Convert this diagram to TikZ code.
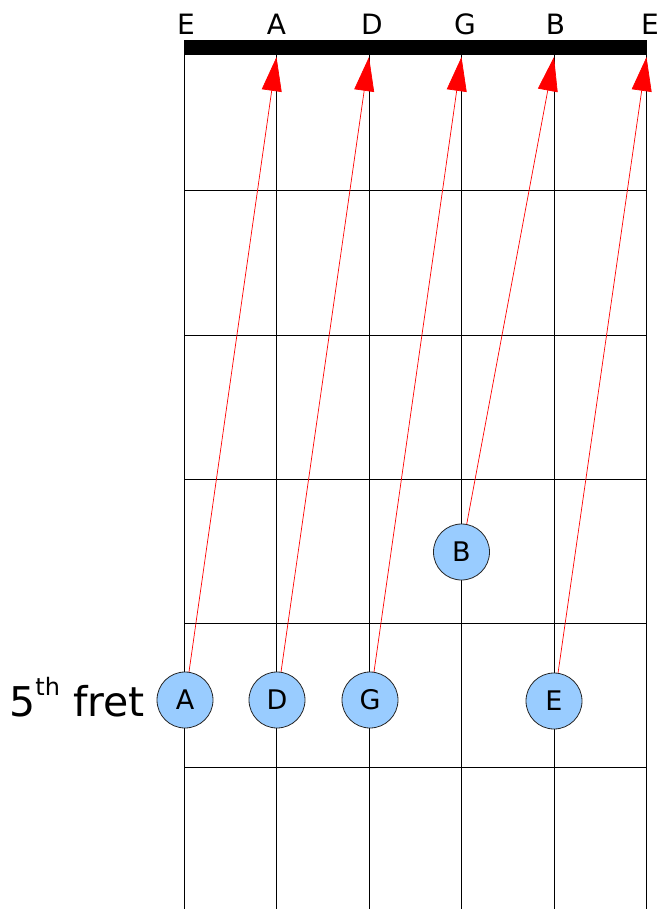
\documentclass[tikz,border=0pt]{standalone}
\usepackage{fontspec}
\setmainfont{DejaVu Sans}
\usetikzlibrary{arrows.meta}
\definecolor{dotblue}{HTML}{99CCFF}
\begin{document}
\begin{tikzpicture}[x=1pt,y=-1pt,
  strline/.style={line width=1pt,black},
  fretline/.style={line width=1pt,black},
  nutbar/.style={fill=black},
  dot/.style={circle,draw=black!85,line width=0.8pt,fill=dotblue,minimum size=56pt,inner sep=0pt,font=\fontsize{27}{27}\selectfont},
  strlabel/.style={anchor=base,inner sep=0pt,font=\fontsize{28}{28}\selectfont},
  arr/.style={red,line width=0.7pt,-{Triangle[length=34pt,width=20pt]}}
]
\useasboundingbox (0,0) rectangle (657,909);
\clip (0,0) rectangle (657,909);
% strings
\foreach \n/\x in {s1/184,s2/276.5,s3/369,s4/461.5,s5/554,s6/646.5}{
  \coordinate (\n top) at (\x,55);
  \coordinate (\n bot) at (\x,909);
  \draw[strline] (\n top) -- (\n bot);
}
% frets
\foreach \y in {191,335,479,623,767}{
  \coordinate (fl\y) at (184,\y);
  \coordinate (fr\y) at (647,\y);
  \draw[fretline] (fl\y) -- (fr\y);
}
% nut
\coordinate (nutA) at (184,40);
\coordinate (nutB) at (647,55.5);
\fill[nutbar] (nutA) rectangle (nutB);
% string labels
\node[strlabel] (l1) at (186,35) {E};
\node[strlabel] (l2) at (276.5,35) {A};
\node[strlabel] (l3) at (372,35) {D};
\node[strlabel] (l4) at (465,35) {G};
\node[strlabel] (l5) at (555.5,35) {B};
\node[strlabel] (l6) at (650,35) {E};
% arrow tips
\coordinate (t2) at (276.5,57);
\coordinate (t3) at (369,57);
\coordinate (t4) at (461.5,57);
\coordinate (t5) at (554,57);
\coordinate (t6) at (646.5,57);
% dots
\node[dot] (dA) at (185,700) {A};
\node[dot] (dD) at (277,700) {D};
\node[dot] (dG) at (370,700) {G};
\node[dot] (dB) at (461.5,552) {B};
\node[dot] (dE) at (554,701) {E};
% arrows
\draw[arr] (dA) -- (t2);
\draw[arr] (dD) -- (t3);
\draw[arr] (dG) -- (t4);
\draw[arr] (dB) -- (t5);
\draw[arr] (dE) -- (t6);
% fret label
\node[anchor=base east,inner sep=0pt,font=\fontsize{41}{41}\selectfont] (fret) at (145,716)
  {5\raisebox{21pt}{\fontsize{24}{24}\selectfont th} fret};
\end{tikzpicture}
\end{document}
